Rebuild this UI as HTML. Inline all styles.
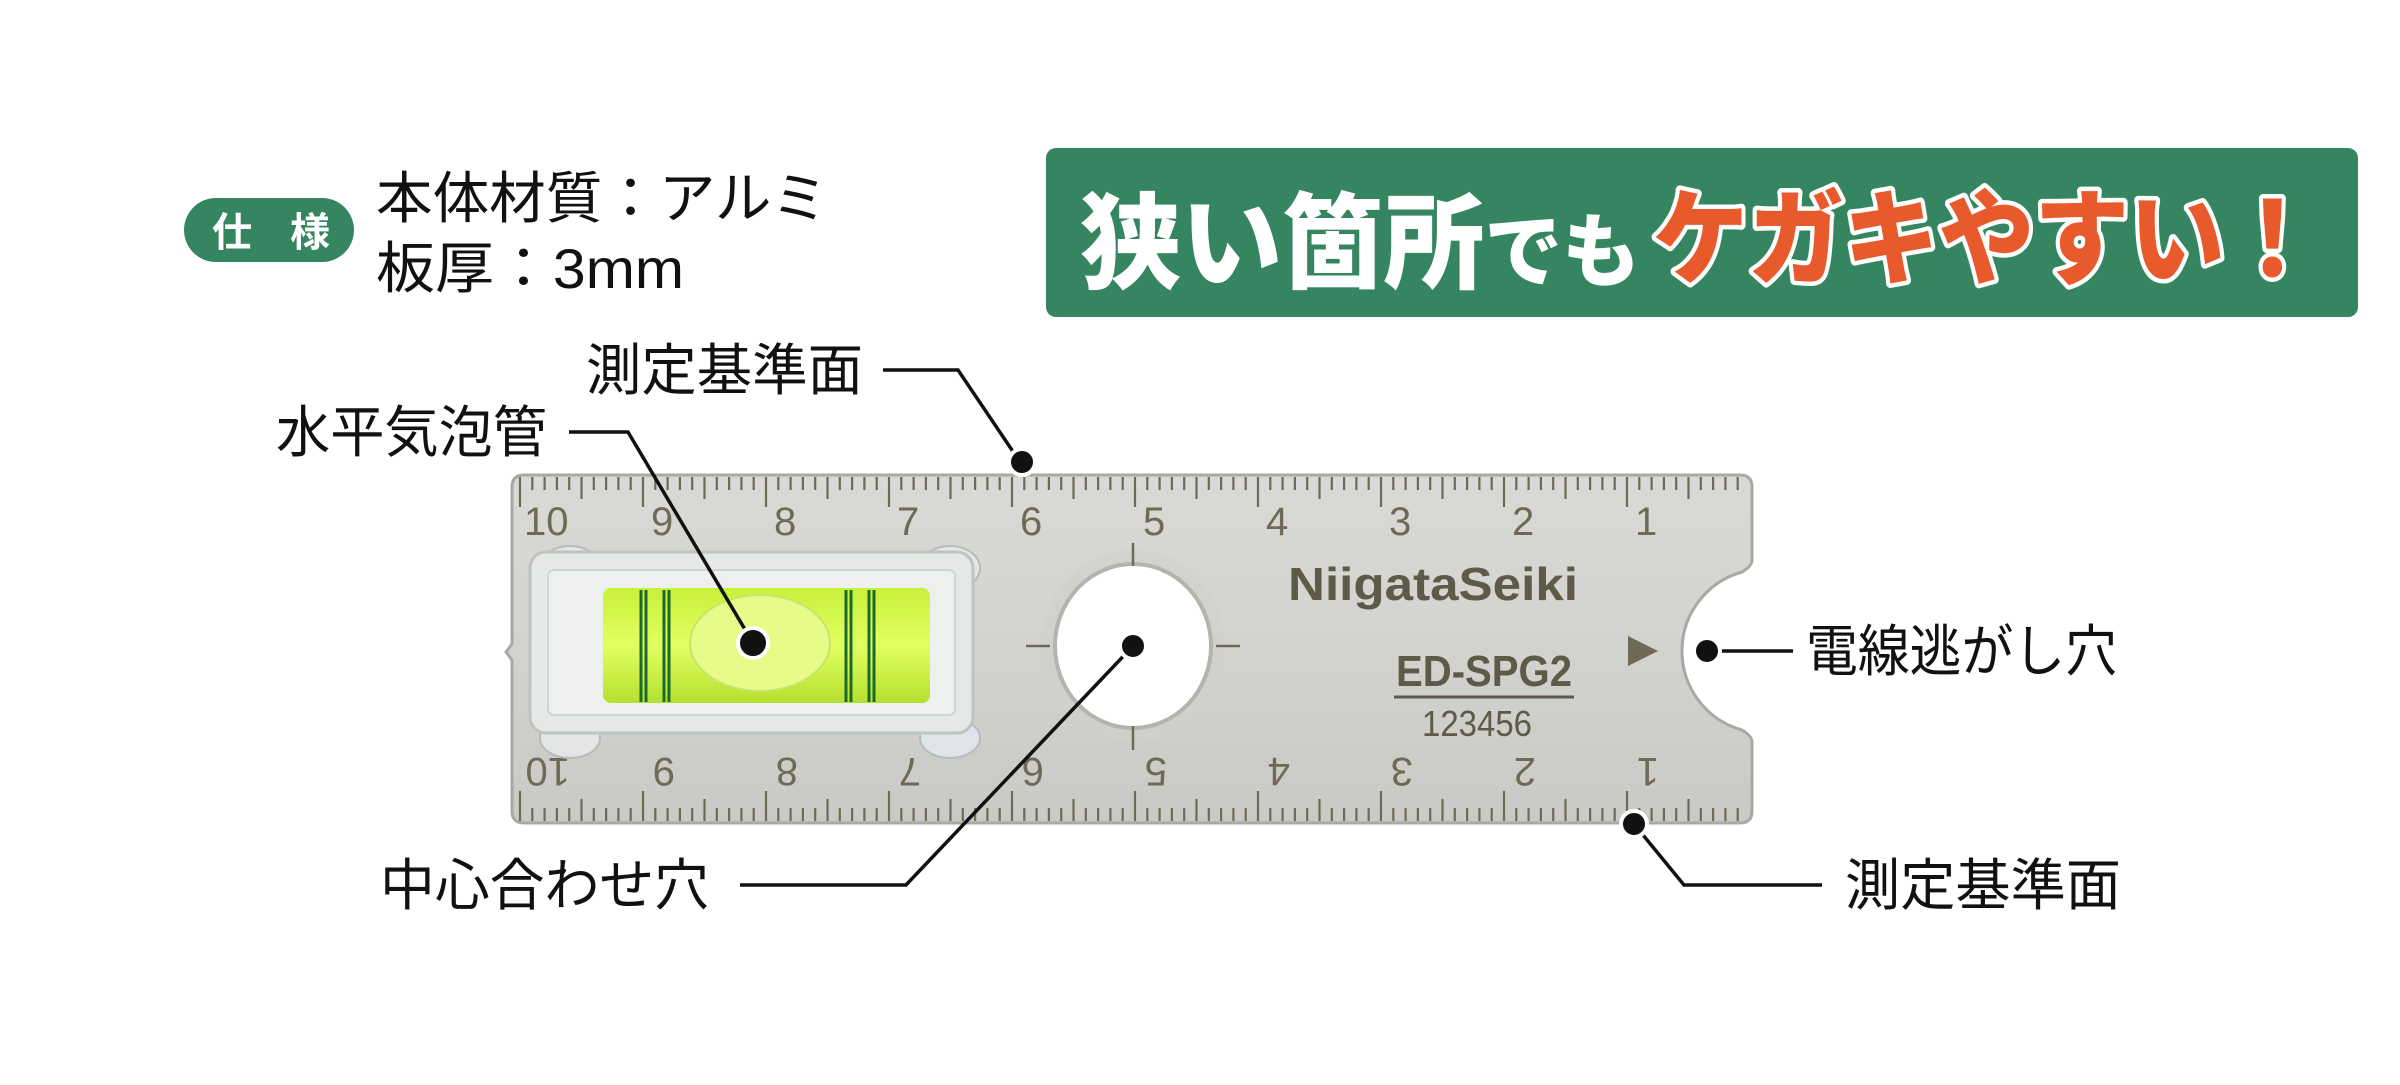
<!DOCTYPE html>
<html><head><meta charset="utf-8"><style>
html,body{margin:0;padding:0;background:#fff;}
body{width:2400px;height:1085px;overflow:hidden;position:relative;}
svg{position:absolute;left:0;top:0;}
</style></head><body>
<svg width="2400" height="1085" viewBox="0 0 2400 1085" xmlns="http://www.w3.org/2000/svg" font-family="'Liberation Sans','Noto Sans CJK JP',sans-serif">
<defs>
<linearGradient id="metal" x1="0" y1="0" x2="0" y2="1">
<stop offset="0" stop-color="#d9d9d6"/><stop offset="0.5" stop-color="#d2d2ce"/><stop offset="1" stop-color="#c9c9c5"/>
</linearGradient>
<linearGradient id="green" x1="0" y1="0" x2="0" y2="1">
<stop offset="0" stop-color="#c8f03a"/><stop offset="0.5" stop-color="#e2ff60"/><stop offset="1" stop-color="#b4e030"/>
</linearGradient>
</defs>

<!-- spec badge -->
<rect x="184" y="198" width="170" height="64" rx="32" fill="#358660"/>
<text x="212" y="246" font-size="40" font-weight="bold" fill="#fff">仕</text>
<text x="290" y="246" font-size="40" font-weight="bold" fill="#fff">様</text>
<text x="376" y="218" font-size="56" fill="#111" textLength="452" lengthAdjust="spacingAndGlyphs">本体材質：アルミ</text>
<text x="376" y="288" font-size="56" fill="#111" textLength="308" lengthAdjust="spacingAndGlyphs">板厚：3mm</text>

<!-- banner -->
<rect x="1046" y="148" width="1312" height="169" rx="10" fill="#358660"/>
<g font-weight="900" font-size="104">
<text x="1080" y="280" fill="#fff" textLength="560" lengthAdjust="spacingAndGlyphs">狭い箇所<tspan font-size="80">でも</tspan></text>
<text x="1653" y="276" fill="#e85a2c" stroke="#fff" stroke-width="9" paint-order="stroke" stroke-linejoin="round" textLength="667" lengthAdjust="spacingAndGlyphs">ケガキやすい！</text>
</g>

<!-- ruler body -->
<path d="M524 475 H1740 Q1752 475 1752 487 V560 Q1752 566 1742 572 A82 82 0 0 0 1742 730 Q1752 736 1752 742 V811 Q1752 823 1740 823 H524 Q512 823 512 811 V660 L506 652 L512 644 V487 Q512 475 524 475 Z" fill="url(#metal)" stroke="#a8a8a4" stroke-width="3"/>
<g id="ticks" stroke="#6e6a55" stroke-width="2.2"></g>
<g font-size="40" fill="#6e6a55" id="nums"></g>

<!-- center hole -->
<ellipse cx="1133" cy="646" rx="92" ry="96" fill="#d0d0cc" opacity="0.7"/>
<ellipse cx="1133" cy="646" rx="78" ry="82" fill="#fff" stroke="#b4b4ae" stroke-width="4"/>
<g stroke="#6e6a55" stroke-width="2.5">
<line x1="1133" y1="543" x2="1133" y2="566"/><line x1="1133" y1="726" x2="1133" y2="750"/>
<line x1="1026" y1="646" x2="1050" y2="646"/><line x1="1216" y1="646" x2="1240" y2="646"/>
</g>

<!-- level vial -->
<ellipse cx="570" cy="568" rx="30" ry="22" fill="#e4e6e6" stroke="#b8bcbc" stroke-width="2"/>
<ellipse cx="950" cy="568" rx="30" ry="22" fill="#e4e6e6" stroke="#b8bcbc" stroke-width="2"/>
<ellipse cx="570" cy="738" rx="30" ry="20" fill="#e4e6e6" stroke="#b8bcbc" stroke-width="2"/>
<ellipse cx="950" cy="738" rx="30" ry="20" fill="#dfe4ea" stroke="#b8bcbc" stroke-width="2"/>
<rect x="530" y="552" width="443" height="181" rx="16" fill="#e6e8e6" stroke="#bfc3c1" stroke-width="3"/>
<rect x="548" y="570" width="407" height="145" rx="6" fill="#eef0ee" stroke="#d0d4d2" stroke-width="2"/>
<rect x="603" y="588" width="327" height="115" rx="8" fill="url(#green)"/>
<ellipse cx="760" cy="643" rx="70" ry="48" fill="#e6fb88" stroke="#c9e46a" stroke-width="2"/>
<g stroke="#1c6a2c" stroke-width="3" fill="none">
<line x1="641" y1="590" x2="641" y2="702"/><line x1="646" y1="590" x2="646" y2="702"/>
<line x1="664" y1="590" x2="664" y2="702"/><line x1="669" y1="590" x2="669" y2="702"/>
<line x1="846" y1="590" x2="846" y2="702"/><line x1="851" y1="590" x2="851" y2="702"/>
<line x1="869" y1="590" x2="869" y2="702"/><line x1="874" y1="590" x2="874" y2="702"/>
</g>

<!-- logo / model -->
<text x="1288" y="600" font-size="46" font-weight="bold" fill="#5e5a48" textLength="290" lengthAdjust="spacingAndGlyphs">NiigataSeiki</text>
<text x="1396" y="686" font-size="44" font-weight="bold" fill="#5e5a48" textLength="176" lengthAdjust="spacingAndGlyphs">ED-SPG2</text>
<line x1="1394" y1="697" x2="1574" y2="697" stroke="#5e5a48" stroke-width="3"/>
<text x="1422" y="736" font-size="36" fill="#5e5a48" textLength="110" lengthAdjust="spacingAndGlyphs">123456</text>
<polygon points="1628,636 1628,666 1658,651" fill="#6e6a55"/>

<!-- leaders -->
<g stroke="#111" stroke-width="3.5" fill="none">
<polyline points="883,370 958,370 1020,462"/>
<polyline points="569,432 628,432 753,643"/>
<polyline points="740,885 906,885 1133,646"/>
<line x1="1707" y1="651" x2="1793" y2="651"/>
<polyline points="1634,824 1684,885 1822,885"/>
</g>
<g fill="#111" stroke="#fff" stroke-width="4">
<circle cx="1022" cy="462" r="13"/>
<circle cx="753" cy="643" r="15"/>
<circle cx="1133" cy="646" r="13"/>
<circle cx="1707" cy="651" r="13"/>
<circle cx="1634" cy="824" r="13"/>
</g>

<!-- labels -->
<g font-size="56" fill="#111" lengthAdjust="spacingAndGlyphs">
<text x="586" y="390" textLength="277" lengthAdjust="spacingAndGlyphs">測定基準面</text>
<text x="276" y="452" textLength="271" lengthAdjust="spacingAndGlyphs">水平気泡管</text>
<text x="380" y="905" textLength="329" lengthAdjust="spacingAndGlyphs">中心合わせ穴</text>
<text x="1806" y="671" textLength="311" lengthAdjust="spacingAndGlyphs">電線逃がし穴</text>
<text x="1845" y="905" textLength="276" lengthAdjust="spacingAndGlyphs">測定基準面</text>
</g>
</svg>
<script>
(function(){
var ns="http://www.w3.org/2000/svg";
var g=document.getElementById('ticks'),n=document.getElementById('nums');
var step=12.3;
for(var k=-10;k<=100;k++){
 var x=1750-k*step; if(x<518||x>1746) continue;
 var m=((k%10)+10)%10;
 var L=m==0?30:(m==5?22:13);
 var a=document.createElementNS(ns,'line');
 a.setAttribute('x1',x);a.setAttribute('x2',x);a.setAttribute('y1',477);a.setAttribute('y2',477+L);g.appendChild(a);
 var b=document.createElementNS(ns,'line');
 b.setAttribute('x1',x);b.setAttribute('x2',x);b.setAttribute('y1',821);b.setAttribute('y2',821-L);g.appendChild(b);
}
for(var c=1;c<=10;c++){
 var x=1750-c*10*step;
 var t=document.createElementNS(ns,'text');
 t.setAttribute('x',x+(c==10?4:8));t.setAttribute('y',535);t.textContent=c;n.appendChild(t);
 var u=document.createElementNS(ns,'text');
 u.setAttribute('transform','translate('+(x+(c==10?50:32))+',758) rotate(180)');u.textContent=c;n.appendChild(u);
}
})();
</script>
</body></html>
